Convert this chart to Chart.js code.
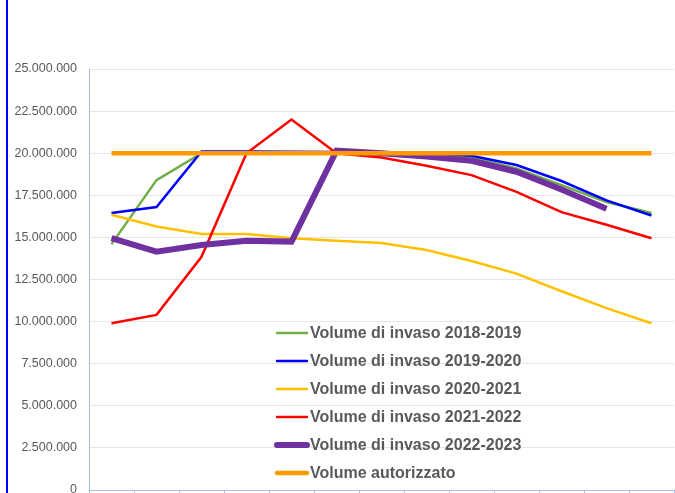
<!DOCTYPE html>
<html>
<head>
<meta charset="utf-8">
<script src="https://cdn.jsdelivr.net/npm/chart.js@4/dist/chart.umd.min.js"></script>
<style>
  body { margin: 0; background: #fff; }
  #wrap { position: relative; width: 675px; height: 493px; overflow: hidden; }
  #edge { position: absolute; left: 6px; top: 0; width: 2px; height: 493px; background: #0000ff; }
  canvas { position: absolute; left: 0; top: 0; }
</style>
</head>
<body>
<div id="wrap">
  <canvas id="lineChart" width="675" height="520"></canvas>
  <div id="edge"></div>
</div>
<script>
// categorie (etichette asse x, fuori dall'inquadratura)
var mesi = ["set", "ott", "nov", "dic", "gen", "feb", "mar", "apr", "mag", "giu", "lug", "ago", "set"];

var invaso2018 = [14600000, 18400000, 20000000, 20000000, 20000000, 20000000, 20000000, 19950000, 19750000, 19100000, 18100000, 17100000, 16450000];
var invaso2019 = [16450000, 16800000, 20100000, 20100000, 20080000, 20070000, 20050000, 20000000, 19850000, 19300000, 18350000, 17200000, 16300000];
var invaso2020 = [16350000, 15650000, 15200000, 15200000, 14950000, 14800000, 14670000, 14250000, 13600000, 12850000, 11800000, 10800000, 9900000];
var invaso2021 = [9900000, 10400000, 13850000, 20000000, 22000000, 20000000, 19750000, 19250000, 18700000, 17700000, 16500000, 15750000, 14950000];
var invaso2022 = [14950000, 14150000, 14550000, 14800000, 14750000, 20150000, 20000000, 19800000, 19550000, 18900000, 17850000, 16700000, null];
var autorizzato = [20000000, 20000000, 20000000, 20000000, 20000000, 20000000, 20000000, 20000000, 20000000, 20000000, 20000000, 20000000, 20000000];

function puntini(v) {
   return String(Math.round(v)).replace(/\B(?=(\d{3})+(?!\d))/g, ".");
}

function serie(label, data, color, width, order) {
   return {
      label: label, data: data, borderColor: color, backgroundColor: color,
      borderWidth: width, pointRadius: 0, tension: 0, order: order, spanGaps: false
   };
}

// legenda disegnata dentro l'area del grafico, come nell'originale
var legendaInterna = {
   id: 'legendaInterna',
   afterDatasetsDraw: function(chart) {
      var ctx = chart.ctx;
      var x0 = chart.chartArea.left + 188;
      var y0 = chart.chartArea.top + 264;
      ctx.save();
      ctx.font = "bold 16px 'Liberation Sans', Arial, sans-serif";
      ctx.textBaseline = 'middle';
      chart.data.datasets.forEach(function(ds, i) {
         var y = y0 + i * 28;
         ctx.strokeStyle = ds.borderColor;
         ctx.lineWidth = ds.borderWidth;
         ctx.lineCap = 'round';
         ctx.beginPath();
         ctx.moveTo(x0, y);
         ctx.lineTo(x0 + 30, y);
         ctx.stroke();
         ctx.fillStyle = '#595959';
         ctx.fillText(ds.label, x0 + 33, y + 1);
      });
      ctx.restore();
   }
};

var ctxL = document.getElementById("lineChart").getContext('2d');
var chart = new Chart(ctxL, {
   type: 'line',
   data: {
      labels: mesi,
      datasets: [
         serie("Volume di invaso 2018-2019", invaso2018, "#70ad47", 2.5, 6),
         serie("Volume di invaso 2019-2020", invaso2019, "#0000ff", 2.5, 5),
         serie("Volume di invaso 2020-2021", invaso2020, "#ffc000", 2.5, 4),
         serie("Volume di invaso 2021-2022", invaso2021, "#ff0000", 2.5, 3),
         serie("Volume di invaso 2022-2023", invaso2022, "#7030a0", 6, 2),
         serie("Volume autorizzato", autorizzato, "#ff9900", 4.5, 1)
      ]
   },
   options: {
      responsive: false,
      animation: false,
      devicePixelRatio: 1,
      layout: { padding: { top: 69, right: 1, left: 0, bottom: 0 } },
      plugins: { legend: { display: false }, tooltip: { enabled: false } },
      scales: {
         x: {
            offset: true,
            grid: { offset: true, drawOnChartArea: false, color: '#a9c0e8', tickLength: 5 },
            border: { color: '#a9c0e8' },
            ticks: { color: '#595959', font: { size: 12, family: "'Liberation Sans', Arial, sans-serif" } },
            afterFit: function(s) { s.height = 30; }
         },
         y: {
            min: 0, max: 25000000,
            ticks: {
               stepSize: 2500000, padding: 12, color: '#595959',
               font: { size: 12.5, family: "'Liberation Sans', Arial, sans-serif" },
               callback: function(v) { return puntini(v); }
            },
            grid: { color: '#e6e6e6', drawTicks: false },
            border: { color: '#a9c0e8' },
            afterFit: function(s) { s.width = 89; }
         }
      }
   },
   plugins: [legendaInterna]
});
</script>
</body>
</html>
